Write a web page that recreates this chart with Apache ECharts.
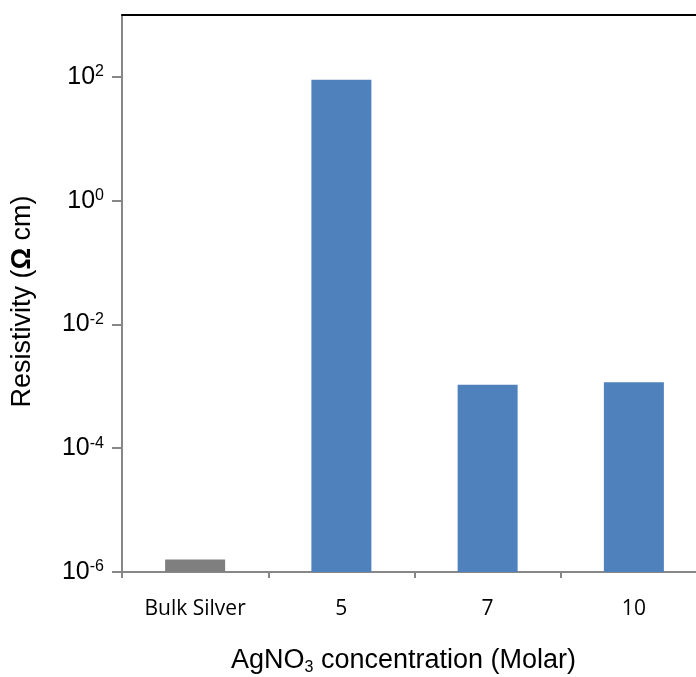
<!DOCTYPE html>
<html>
<head>
<meta charset="utf-8">
<script src="https://cdn.jsdelivr.net/npm/echarts@6/dist/echarts.min.js"></script>
<style>
  html, body { margin: 0; padding: 0; background: #fff; }
  #chart { width: 696px; height: 677px; }
</style>
</head>
<body>
<div id="chart"></div>
<script>
// Resistivity of printed silver films vs. precursor concentration
const categories = ['Bulk Silver', '5', '7', '10'];
const resistivity = [1.59e-6, 90, 1.06e-3, 1.16e-3];
const barColors = ['#7f7f7f', '#4f81bd', '#4f81bd', '#4f81bd'];
const yMin = 1e-6;
const yMax = 1e3;
const yTickValues = [1e-6, 1e-4, 1e-2, 1, 1e2];

const axisGrey = '#878787';
const sansFont = '"Liberation Sans", Arial, sans-serif';

const chart = echarts.init(document.getElementById('chart'), null, { renderer: 'canvas' });

chart.setOption({
  backgroundColor: '#ffffff',
  animation: false,
  grid: { left: 122, top: 15, right: -11, bottom: 105, outerBoundsMode: 'none', containLabel: false },
  xAxis: [
    {
      type: 'category',
      data: categories,
      position: 'bottom',
      axisLine: { lineStyle: { color: axisGrey, width: 2 } },
      axisTick: { show: true, length: 6, lineStyle: { color: axisGrey, width: 2 } },
      axisLabel: { color: '#000', fontFamily: '"Open Sans", sans-serif', fontSize: 21, margin: 27 },
      name: '{t|AgNO}{s|3}{t| concentration (Molar)}',
      nameLocation: 'middle',
      nameGap: 74,
      nameTextStyle: {
        padding: [0, 22, 0, 0],
        rich: {
          t: { fontFamily: sansFont, fontSize: 27, color: '#000' },
          s: { fontFamily: sansFont, fontSize: 16, color: '#000', verticalAlign: 'bottom', padding: [14, 0, 0, 0] }
        }
      }
    },
    {
      type: 'category',
      data: categories,
      position: 'top',
      axisLine: { lineStyle: { color: '#000', width: 2 } },
      axisTick: { show: false },
      axisLabel: { show: false }
    }
  ],
  yAxis: {
    type: 'log',
    logBase: 10,
    min: yMin,
    max: yMax,
    startValue: yMin,
    axisLine: { show: true, lineStyle: { color: axisGrey, width: 2 } },
    axisTick: { show: true, length: 10, customValues: yTickValues, lineStyle: { color: axisGrey, width: 2 } },
    splitLine: { show: false },
    axisLabel: {
      margin: 18,
      customValues: yTickValues,
      formatter: function (v) {
        const e = Math.round(Math.log10(v));
        return '{b|10}{e|' + e + '}';
      },
      rich: {
        b: { fontFamily: sansFont, fontSize: 25, color: '#000' },
        e: { fontFamily: sansFont, fontSize: 16, color: '#000', verticalAlign: 'top', padding: [0, 0, 10, 0] }
      }
    },
    name: '{n|Resistivity (}{o|Ω}{n| cm)}',
    nameLocation: 'middle',
    nameGap: 86,
    nameTextStyle: {
      padding: [0, 16, 0, 0],
      rich: {
        n: { fontFamily: sansFont, fontSize: 27, color: '#000' },
        o: { fontFamily: sansFont, fontSize: 27, color: '#000', fontWeight: 'bold' }
      }
    }
  },
  series: [
    {
      type: 'bar',
      barWidth: 60,
      data: resistivity.map((v, i) => ({ value: v, itemStyle: { color: barColors[i] } }))
    }
  ]
});
</script>
</body>
</html>
